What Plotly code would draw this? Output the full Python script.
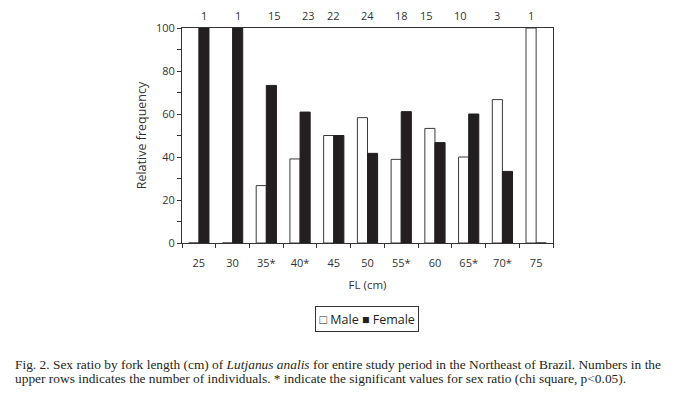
import plotly.graph_objects as go

categories = ["25", "30", "35*", "40*", "45", "50", "55*", "60", "65*", "70*", "75"]
male = [0, 0, 26.7, 39.1, 50.0, 58.3, 38.9, 53.3, 40.0, 66.7, 100]
female = [100, 100, 73.3, 60.9, 50.0, 41.7, 61.1, 46.7, 60.0, 33.3, 0]
counts = [1, 1, 15, 23, 22, 24, 18, 15, 10, 3, 1]

FONT = "Open Sans, Noto Sans, sans-serif"

# page body has an 8px margin; work in figure coordinates = screen - 8
OFF = 8
W, H = 684 - 2 * OFF, 397 - 2 * OFF
L, T = 182 - OFF, 23 - OFF
pw, ph = 553 - 182, 243 - 23
R = W - L - pw
B = H - T - ph


def px_x(x):
    return (x - OFF - L) / pw


def px_y(y):
    return (T + ph - (y - OFF)) / ph


fig = go.Figure()
fig.add_trace(go.Bar(x=categories, y=male, name="Male",
                     marker=dict(color="white", line=dict(color="#3a3a3a", width=1)),
                     showlegend=False))
fig.add_trace(go.Bar(x=categories, y=female, name="Female",
                     marker=dict(color="#231f20", line=dict(color="#231f20", width=1)),
                     showlegend=False))

for i, n in enumerate(counts):
    fig.add_annotation(x=(i + 0.5) / len(counts), y=1, xref="paper", yref="paper",
                       yanchor="bottom", yshift=3,
                       text=str(n), showarrow=False, font=dict(size=11, color="#333", family=FONT))

fig.add_annotation(x=px_x(367), y=px_y(321), xref="paper", yref="paper",
                   text="□ Male ■ Female", showarrow=False,
                   font=dict(size=12.5, color="#231f20", family=FONT),
                   bordercolor="#333", borderwidth=1, borderpad=3.5, xanchor="center", yanchor="middle")

caption_lines = [
    "Fig. 2. Sex ratio by fork length (cm) of <i>Lutjanus analis</i> for entire study period in the Northeast of Brazil. Numbers in the",
    "upper rows indicates the number of individuals. * indicate the significant values for sex ratio (chi square, p&lt;0.05).",
]
for line, yc in zip(caption_lines, [367, 382]):
    fig.add_annotation(x=px_x(13), y=px_y(yc), xref="paper", yref="paper",
                       text=line, showarrow=False,
                       align="left", xanchor="left", yanchor="middle",
                       font=dict(size=13.4, color="#231f20", family="Liberation Serif, Times New Roman, serif"))

fig.update_layout(
    width=W, height=H,
    margin=dict(l=L, r=R, t=T, b=B),
    paper_bgcolor="white", plot_bgcolor="white",
    barmode="group", bargap=0.4, bargroupgap=0,
    font=dict(family=FONT, size=11, color="#333"),
    xaxis=dict(type="category", tickson="boundaries", ticks="outside", ticklen=4,
               tickcolor="#333", showline=True, linecolor="#333", linewidth=1, mirror=True,
               showgrid=False, tickangle=0, ticklabelstandoff=10,
               title=dict(text="FL (cm)", standoff=11, font=dict(size=11.5))),
    yaxis=dict(range=[0, 100], tickvals=[0, 20, 40, 60, 80, 100], ticks="outside", ticklen=4,
               tickcolor="#333", showline=True, linecolor="#333", linewidth=1, mirror=True,
               showgrid=False, zeroline=False,
               minor=dict(tickvals=[10, 30, 50, 70, 90], ticks="outside", ticklen=4, tickcolor="#333"),
               title=dict(text="Relative frequency", standoff=6, font=dict(size=12.5))),
)

fig.write_html("out.html")
